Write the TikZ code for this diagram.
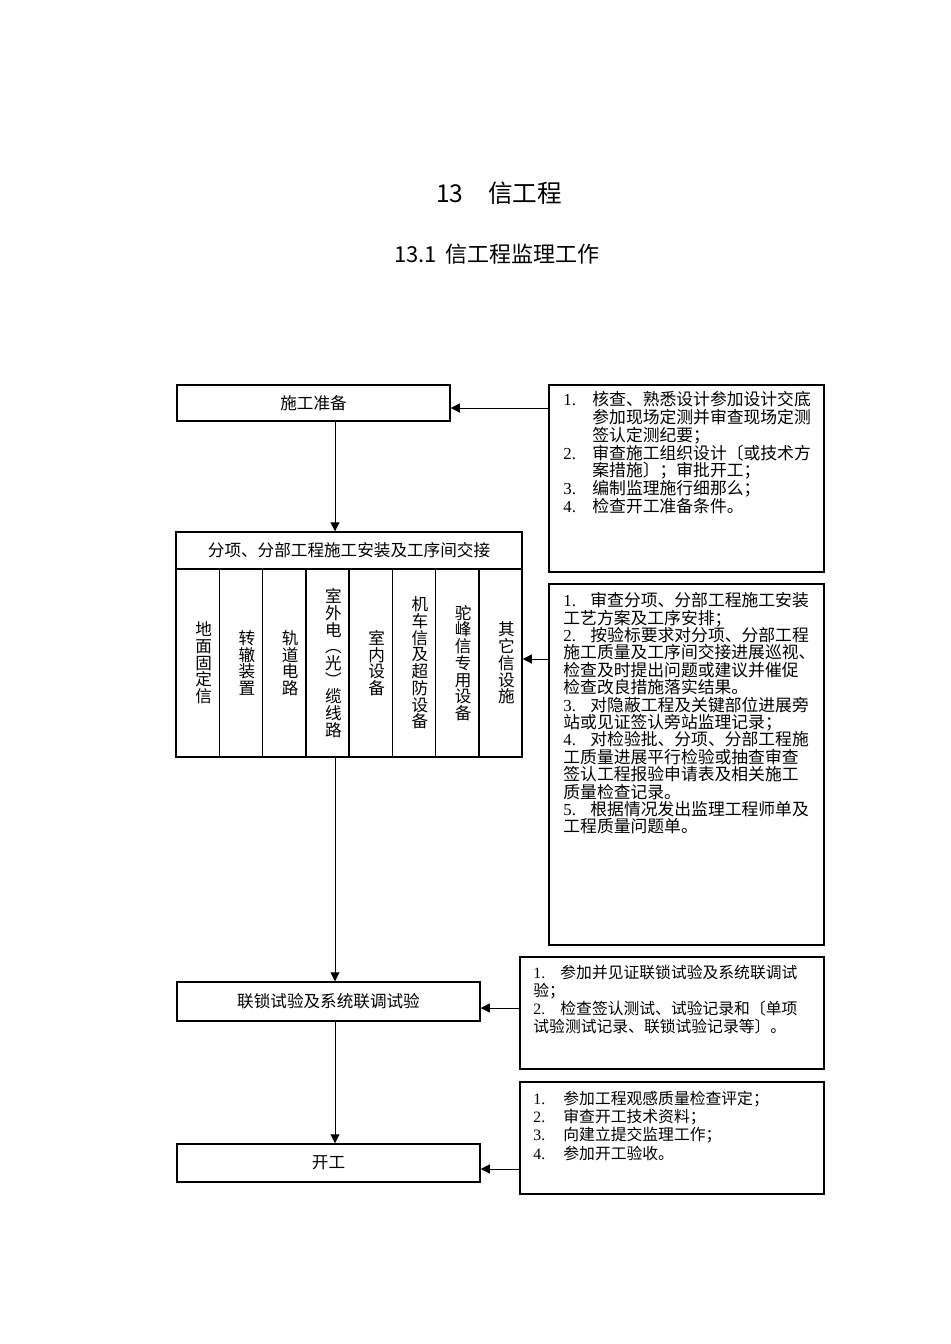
\documentclass[tikz,border=0pt]{standalone}
\usepackage{fontspec}
\setmainfont{Noto Sans CJK SC}
\newfontfamily\numfont{Liberation Serif}
\usetikzlibrary{arrows.meta}

% number label of a list line, in a box of fixed width
\newcommand\nlab[2]{\makebox[#1][l]{\numfont #2}}

\begin{document}
\begin{tikzpicture}[x=0.5pt, y=-0.5pt,
    %Option for nice arrows
    >={Triangle[length=4.5pt,width=4.5pt]},
    box/.style={draw, line width=0.75pt, inner sep=0pt, font=\fontsize{8.3}{8.3}\selectfont},
    flow/.style={->, line width=0.5pt},
    coltext/.style={align=center, inner sep=0pt, font=\fontsize{8.3}{8.35}\selectfont},
    notetext/.style={align=left, inner sep=0pt, anchor=north west, font=\fontsize{8.4}{#1}\selectfont},
    notetext/.default=8.7,
    smalltext/.style={align=left, inner sep=0pt, anchor=north west, font=\fontsize{7.9}{#1}\selectfont},
]
    % Frame
    \useasboundingbox (0,0) rectangle (950,1344);

    % Titles
    \node[font=\fontsize{12.3}{14}\selectfont] (title) at (499,193) {13\hspace{1em}信工程};
    \node[font=\fontsize{11}{12}\selectfont] (subtitle) at (497,254) {13.1\hspace{0.4em}信工程监理工作};

    % Flow boxes
    \node[box, minimum width=136.5pt, minimum height=18pt] (prep) at (313.5,403) {施工准备};
    \node[box, minimum width=173pt, minimum height=18.5pt] (split) at (349,550.5)
        {分项、分部工程施工安装及工序间交接};
    \foreach \lbl [count=\i] in {{地\\面\\固\\定\\信}, {转\\辙\\装\\置}, {轨\\道\\电\\路},
        {室\\外\\电\\︵\\光\\︶\\缆\\线\\路}, {室\\内\\设\\备}, {机\\车\\信\\及\\超\\防\\设\\备},
        {驼\\峰\\信\\专\\用\\设\\备}, {其\\它\\信\\设\\施}} {
        \node[box, minimum width=21.625pt, minimum height=94pt] (col\i)
            at ({176+43.25*(\i-0.5)},663) {};
        \node[coltext] (lbl\i) at ({176+43.25*(\i-0.5)+6},663) {\lbl};
    }
    \node[box, minimum width=151.5pt, minimum height=19.5pt] (link) at (328.5,1001.5)
        {联锁试验及系统联调试验};
    \node[box, minimum width=151.5pt, minimum height=19pt] (open) at (328.5,1163) {开工};

    % Note boxes
    \node[box, minimum width=137.5pt, minimum height=93.5pt] (note1) at (686.5,478.5) {};
    \node[box, minimum width=137.5pt, minimum height=180.5pt] (note2) at (686.5,764.5) {};
    \node[box, minimum width=152pt, minimum height=56pt] (note3) at (672,1013) {};
    \node[box, minimum width=152pt, minimum height=56pt] (note4) at (672,1138) {};

    % Note texts
    \node[notetext=8.9] (text1) at (563,391) {%
        \nlab{14.5pt}{1.}核查、熟悉设计参加设计交底\\
        \hspace*{14.5pt}参加现场定测并审查现场定测\\
        \hspace*{14.5pt}签认定测纪要；\\
        \nlab{14.5pt}{2.}审查施工组织设计〔或技术方\\
        \hspace*{14.5pt}案措施〕；审批开工；\\
        \nlab{14.5pt}{3.}编制监理施行细那么；\\
        \nlab{14.5pt}{4.}检查开工准备条件。};
    \node[notetext] (text2) at (563,592) {%
        \nlab{13.5pt}{1.}审查分项、分部工程施工安装\\
        工艺方案及工序安排；\\
        \nlab{13.5pt}{2.}按验标要求对分项、分部工程\\
        施工质量及工序间交接进展巡视、\\
        检查及时提出问题或建议并催促\\
        检查改良措施落实结果。\\
        \nlab{13.5pt}{3.}对隐蔽工程及关键部位进展旁\\
        站或见证签认旁站监理记录；\\
        \nlab{13.5pt}{4.}对检验批、分项、分部工程施\\
        工质量进展平行检验或抽查审查\\
        签认工程报验申请表及相关施工\\
        质量检查记录。\\
        \nlab{13.5pt}{5.}根据情况发出监理工程师单及\\
        工程质量问题单。};
    \node[smalltext=9] (text3) at (533,964.5) {%
        \nlab{13.5pt}{1.}参加并见证联锁试验及系统联调试\\
        验；\\
        \nlab{13.5pt}{2.}检查签认测试、试验记录和〔单项\\
        试验测试记录、联锁试验记录等〕。};
    \node[smalltext=9.15] (text4) at (533,1090.5) {%
        \nlab{15pt}{1.}参加工程观感质量检查评定；\\
        \nlab{15pt}{2.}审查开工技术资料；\\
        \nlab{15pt}{3.}向建立提交监理工作；\\
        \nlab{15pt}{4.}参加开工验收。};

    % Main line
    \coordinate (trunk) at (335,0);
    \draw[flow] (prep.south -| trunk) -- (split.north -| trunk);
    \draw[flow] (col4.south -| trunk) -- (link.north -| trunk);
    \draw[flow] (link.south -| trunk) -- (open.north -| trunk);

    % Arrows from the notes
    \coordinate (in1) at (549,408);
    \coordinate (in2) at (549,659);
    \coordinate (in3) at (520,1008);
    \coordinate (in4) at (520,1169);
    \draw[flow] (in1) -- (in1 -| prep.east);
    \draw[flow] (in2) -- (in2 -| col8.east);
    \draw[flow] (in3) -- (in3 -| link.east);
    \draw[flow] (in4) -- (in4 -| open.east);
\end{tikzpicture}
\end{document}
